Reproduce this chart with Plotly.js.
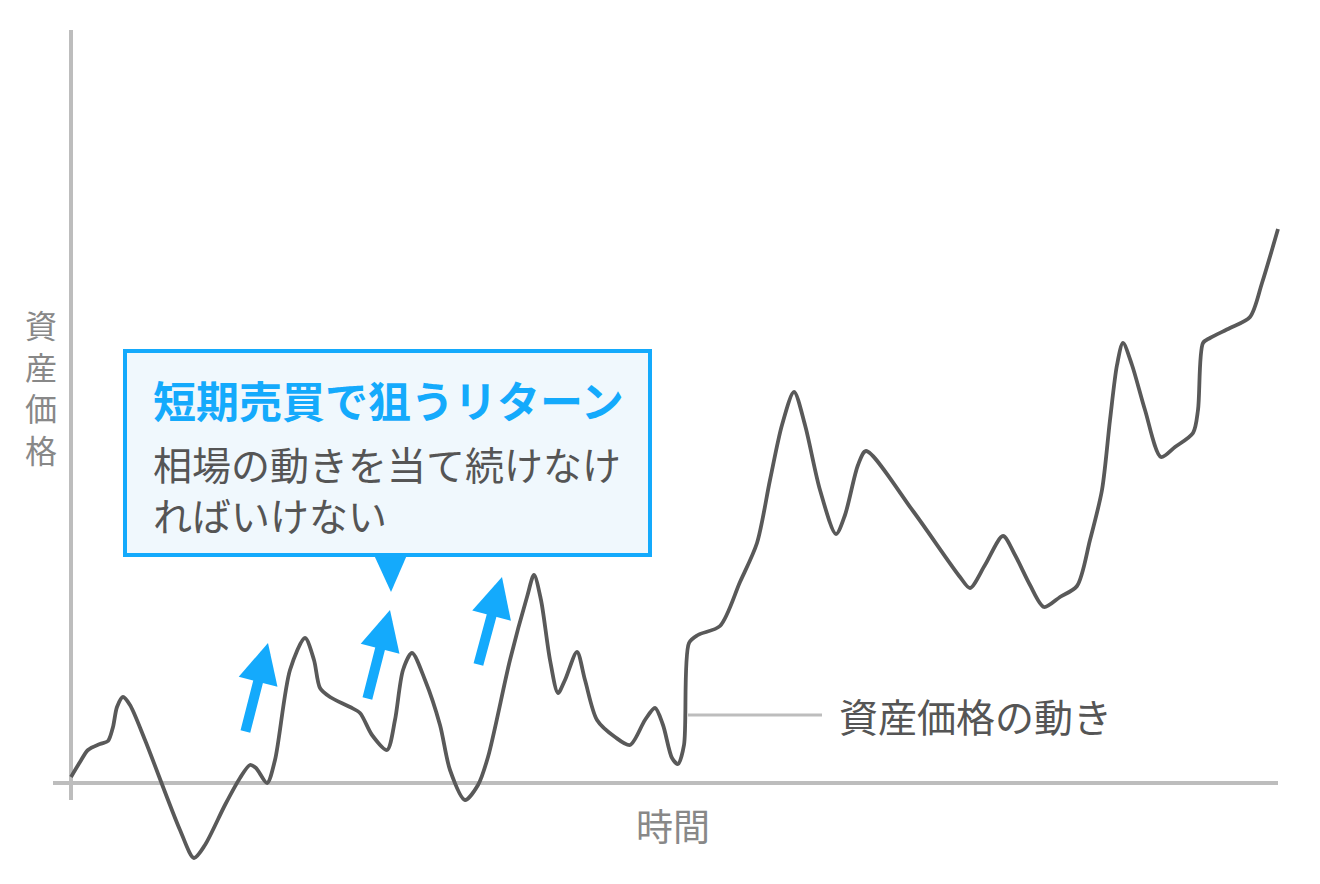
<!DOCTYPE html>
<html>
<head>
<meta charset="utf-8">
<script src="https://cdn.plot.ly/plotly-3.0.1.min.js"></script>
<style>html,body{margin:0;padding:0;background:#fff;}#chart{width:1320px;height:884px;}</style>
</head>
<body>
<div id="chart"></div>
<script>
// Time (x) and asset price (y), origin at the axis crossing
const time = [0,9,17,29,37,42,46,52,59,74,109,123,134,154,169,179,185,196,204,219,234,243,249,259,279,289,301,316,324,332,341,354,369,379,394,407,417,439,456,463,470,479,487,494,506,514,526,544,559,574,584,592,601,607,613,618,627,649,669,686,699,711,723,734,749,765,774,787,795,842,889,899,914,932,944,959,973,989,1006,1019,1031,1039,1046,1052,1061,1074,1090,1104,1122,1127,1132,1139,1159,1179,1191,1207];
const price = [6,21,33,39,42,56,76,86,78,43,-47,-75,-62,-22,5,18,15,0,23,113,145,123,95,86,76,70,48,33,63,113,130,103,58,13,-17,-2,26,123,186,208,183,123,90,103,131,103,63,46,38,63,75,58,25,19,38,140,148,157,201,240,303,358,391,358,293,249,268,318,332,272,206,195,218,247,228,198,176,186,197,243,293,363,418,440,418,373,326,336,350,373,440,445,455,466,500,554];

// Up arrows (short-term trades): tail and tip
const arrowTailX = [174,296,407];
const arrowTailY = [50,83,117];
const arrowTipX = [197,319,431];
const arrowTipY = [140,173,206];

const calloutTitle = "短期売買で狙うリターン";
const calloutLines = ["相場の動きを当て続けなけ","ればいけない"];
const yLabelChars = ["資","産","価","格"];
const xLabel = "時間";
const lineLabel = "資産価格の動き";

const BLUE = "#14aafc";
const FONT = "Noto Sans CJK JP";

const trace = {
  x: time, y: price, mode: "lines", type: "scatter",
  line: {color: "#595959", width: 3.8, shape: "spline", smoothing: 0.8},
  hoverinfo: "skip"
};

const shapes = [
  {type:"line", xref:"x", yref:"y", x0:0, x1:0, y0:-17, y1:753, line:{color:"#bdbdbd", width:4}, layer:"below"},
  {type:"line", xref:"x", yref:"y", x0:-18, x1:1207, y0:0, y1:0, line:{color:"#bdbdbd", width:4}, layer:"below"},
  {type:"line", xref:"x", yref:"y", x0:617, x1:751, y0:68, y1:68, line:{color:"#bdbdbd", width:3}, layer:"below"},
  {type:"rect", xref:"x", yref:"y", x0:54, x1:579, y0:228, y1:432, fillcolor:"#f0f8fd", line:{color:BLUE, width:4}, layer:"above"},
  {type:"path", xref:"x", yref:"y", path:"M303,228 L336,228 L320,191 Z", fillcolor:BLUE, line:{width:0}, layer:"above"}
];

const annotations = [];
for (let i = 0; i < arrowTipX.length; i++) {
  annotations.push({
    x: arrowTipX[i], y: arrowTipY[i], ax: arrowTailX[i], ay: arrowTailY[i],
    xref:"x", yref:"y", axref:"x", ayref:"y", text:"", showarrow:true,
    arrowhead:2, arrowsize:0.8, arrowwidth:10, arrowcolor:BLUE, standoff:0, startstandoff:0
  });
}
annotations.push({x:80, y:384, xref:"x", yref:"y", xanchor:"left", yanchor:"middle", text:"<b>"+calloutTitle+"</b>", showarrow:false, font:{family:FONT, size:43, color:BLUE}});
const lineY = [320, 269];
calloutLines.forEach((t,i) => annotations.push({x:80, y:lineY[i], xref:"x", yref:"y", xanchor:"left", yanchor:"middle", text:t, showarrow:false, font:{family:FONT, size:39, color:"#555555"}}));
annotations.push({x:-30, y:397, xref:"x", yref:"y", xanchor:"center", yanchor:"middle", text:yLabelChars.join("<br>"), showarrow:false, font:{family:FONT, size:32, color:"#888888"}});
annotations.push({x:602, y:-42, xref:"x", yref:"y", xanchor:"center", yanchor:"middle", text:xLabel, showarrow:false, font:{family:FONT, size:37, color:"#888888"}});
annotations.push({x:766, y:68, xref:"x", yref:"y", xanchor:"left", yanchor:"middle", text:lineLabel, showarrow:false, font:{family:FONT, size:39, color:"#555555"}});

const layout = {
  width:1320, height:884, margin:{l:0,r:0,t:0,b:0},
  paper_bgcolor:"#ffffff", plot_bgcolor:"#ffffff",
  xaxis:{range:[-71,1249], visible:false, fixedrange:true},
  yaxis:{range:[-101,783], visible:false, fixedrange:true},
  showlegend:false, shapes:shapes, annotations:annotations,
  font:{family:FONT}
};
Plotly.newPlot("chart", [trace], layout, {displayModeBar:false, staticPlot:true});
</script>
</body>
</html>
